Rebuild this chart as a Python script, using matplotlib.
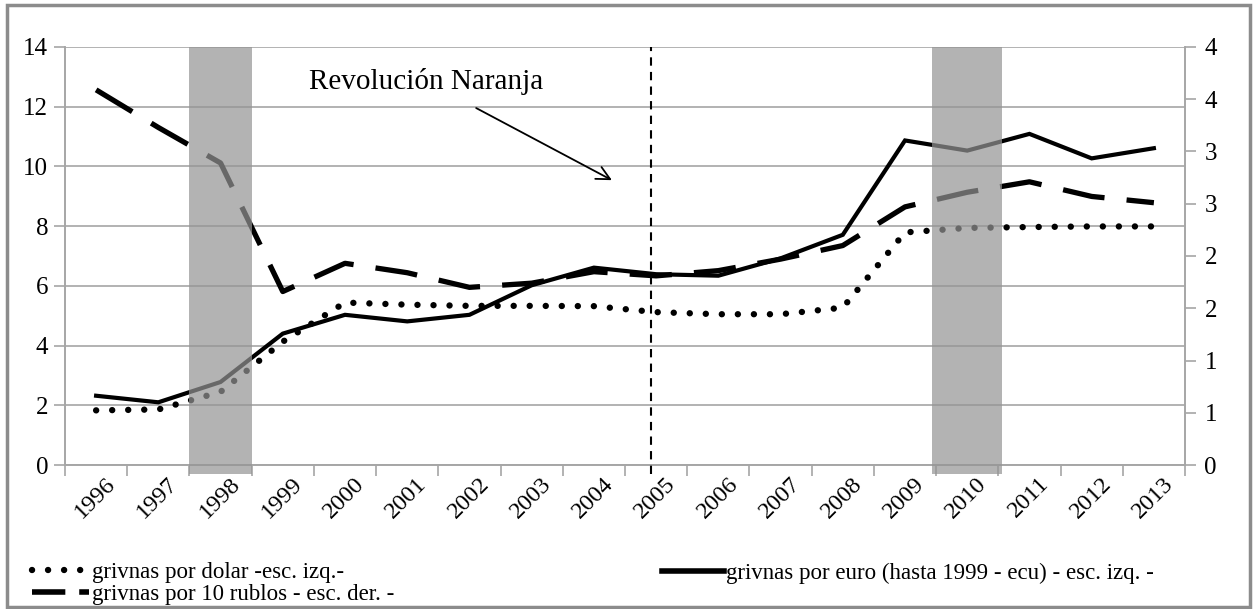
import numpy as np
import matplotlib
matplotlib.use("Agg")
import matplotlib.pyplot as plt
import matplotlib.transforms as mtransforms
from matplotlib.patches import Rectangle
from matplotlib.lines import Line2D

plt.rcParams['font.family'] = ['Liberation Serif', 'DejaVu Serif']

# data
years = [str(y) for y in range(1996, 2014)]
usd = [1.83, 1.86, 2.45, 4.13, 5.44, 5.37, 5.33, 5.33, 5.32, 5.12, 5.05, 5.05, 5.27, 7.79, 7.94, 7.97, 7.99, 7.99]
eur = [2.32, 2.10, 2.78, 4.40, 5.03, 4.81, 5.03, 6.02, 6.61, 6.39, 6.34, 6.92, 7.71, 10.87, 10.53, 11.09, 10.27, 10.61]
rub10 = [3.59, 3.23, 2.89, 1.66, 1.93, 1.84, 1.70, 1.74, 1.85, 1.81, 1.86, 1.97, 2.10, 2.47, 2.61, 2.71, 2.57, 2.51]
shaded_years = ['1998', '2010']
event_year = '2005'
left_ticks = [0, 2, 4, 6, 8, 10, 12, 14]
right_ticks = [0, 0.5, 1, 1.5, 2, 2.5, 3, 3.5, 4]
right_labels = ['0', '1', '1', '2', '2', '3', '3', '4', '4']

W, H = 1253, 609
fig = plt.figure(figsize=(W / 100, H / 100), dpi=100)
ax = fig.add_axes([65 / W, 1 - 465 / H, (1185 - 65) / W, (465 - 47) / H])
ax2 = ax.twinx()

x = np.arange(len(years))
grid_c = '#a6a6a6'
dot_style = (0, (0.01, 2.5))

ax.plot(x, usd, color='black', lw=4.6, linestyle=dot_style, dash_capstyle='round', zorder=3)
ax.plot(x, eur, color='black', lw=3, solid_joinstyle='miter', zorder=4)
ax2.plot(x, rub10, color='black', lw=3.8, linestyle=(0, (8, 4.2)), zorder=3)

ax.set_xlim(-0.5, len(years) - 0.5)
ax.set_ylim(0, 14)
ax2.set_ylim(0, 4)
ax.set_yticks(left_ticks)
ax.set_yticklabels([str(t) for t in left_ticks])
ax2.set_yticks(right_ticks)
ax2.set_yticklabels(right_labels)
ax.yaxis.grid(True, color=grid_c, lw=1.2)
ax.set_axisbelow(True)

ax.set_xticks(x)
ax.set_xticklabels(years, rotation=45, ha='right', rotation_mode='anchor')
ax.set_xticks(np.arange(-0.5, len(years), 1), minor=True)
ax.tick_params(axis='x', which='major', length=0, pad=6, labelsize=17.5)
ax.tick_params(axis='x', which='minor', length=8, color=grid_c, width=1.2)
ax.tick_params(axis='y', length=8, color=grid_c, width=1.2, labelsize=18, pad=4)
ax2.tick_params(axis='y', length=8, color=grid_c, width=1.2, labelsize=18, pad=6)
# shift year labels so their upper end sits a bit right of the category centre
offset = mtransforms.ScaledTranslation(9 / 100, 0, fig.dpi_scale_trans)
for label in ax.get_xticklabels():
    label.set_transform(label.get_transform() + offset)

for a in (ax, ax2):
    for s in a.spines.values():
        s.set_color(grid_c)
        s.set_linewidth(1.2)
    a.spines['top'].set_visible(False)

# shaded crisis years, drawn over the lines
for yr in shaded_years:
    i = years.index(yr)
    half = 0.5 if yr == '1998' else 0.56
    ax2.axvspan(i - half, i + half, ymin=-0.022, ymax=1, color='#949494', alpha=0.71,
                lw=0, zorder=10, clip_on=False)

# vertical marker and annotation
ie = years.index(event_year) - 0.08
ax2.plot([ie, ie], [-0.022, 1], transform=ax2.get_xaxis_transform(), color='black',
         lw=1.5, linestyle=(0, (4, 3)), clip_on=False, zorder=11)
ax.annotate('Revolución Naranja', xy=(8.29, 9.54), xytext=(5.3, 12.85),
            ha='center', va='center', fontsize=21,
            arrowprops=dict(arrowstyle='->', color='black', lw=1.3,
                            mutation_scale=24, shrinkA=16, shrinkB=0), zorder=12)

# legend
h_usd = Line2D([], [], color='black', lw=4.6, linestyle=dot_style, dash_capstyle='round')
h_rub = Line2D([], [], color='black', lw=4, linestyle=(0, (6, 2.5)))
h_eur = Line2D([], [], color='black', lw=4)
fig.legend([h_usd, h_rub], ['grivnas por dolar -esc. izq.-', 'grivnas por 10 rublos - esc. der. -'],
           loc='lower left', bbox_to_anchor=(16 / W, -0.019), frameon=False, fontsize=16.5,
           handlelength=2.5, handletextpad=0.1, labelspacing=0.0, borderpad=0.2)
fig.legend([h_eur], ['grivnas por euro (hasta 1999 - ecu) - esc. izq. -'],
           loc='lower left', bbox_to_anchor=(646 / W, 0.015), frameon=False, fontsize=16.5,
           handlelength=2.7, handletextpad=0.1, borderpad=0.2)

# outer frame
fig.patches.append(Rectangle((7 / W, 2 / H), (1250 - 7) / W, (604 - 2) / H, transform=fig.transFigure,
                             fill=False, edgecolor='#8c8c8c', lw=2.5))

fig.savefig('out.png', dpi=100)
